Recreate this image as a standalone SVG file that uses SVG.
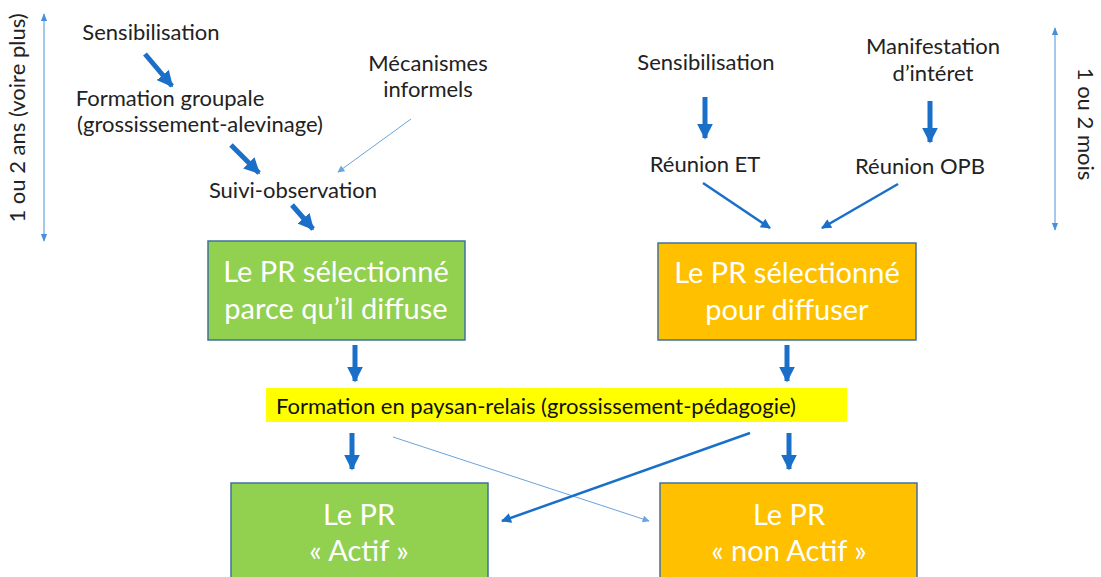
<svg xmlns="http://www.w3.org/2000/svg" width="1101" height="577" viewBox="0 0 1101 577">
<defs>
<style>
.t{font-family:Lato,"Liberation Sans",Arial,sans-serif;font-size:22px;fill:#222;text-anchor:middle}
.bt{font-family:Lato,"Liberation Sans",Arial,sans-serif;font-size:29px;fill:#fff;text-anchor:middle}
.box{stroke:#41719C;stroke-width:1.5}
.g{fill:#92D050}
.o{fill:#FFC000}
.thick{stroke:#1A70C8;stroke-width:5;fill:none}
.med{stroke:#1A70C8;stroke-width:2.5;fill:none}
.thin{stroke:#6BA3DC;stroke-width:1;fill:none}
.dim{stroke:#4A90D9;stroke-width:1;fill:none}
</style>
<marker id="ah" viewBox="0 0 10 10" refX="9" refY="5" markerWidth="3.2" markerHeight="3.2" orient="auto-start-reverse" markerUnits="strokeWidth"><path d="M0,0L10,5L0,10z" fill="#1A70C8"/></marker>
<marker id="am" viewBox="0 0 10 10" refX="9" refY="5" markerWidth="5" markerHeight="4" orient="auto" markerUnits="strokeWidth"><path d="M0,0L10,5L0,10z" fill="#1A70C8"/></marker>
<marker id="at" viewBox="0 0 10 10" refX="9" refY="5" markerWidth="9" markerHeight="7" orient="auto" markerUnits="strokeWidth"><path d="M0,0L10,5L0,10z" fill="#6BA3DC"/></marker>
<marker id="ad" viewBox="0 0 10 10" refX="9" refY="5" markerWidth="8" markerHeight="8" orient="auto-start-reverse" markerUnits="strokeWidth"><path d="M0,1L10,5L0,9z" fill="#4A90D9"/></marker>
</defs>

<g id="dim-left">
<line class="dim" x1="44" y1="14" x2="44" y2="241" marker-start="url(#ad)" marker-end="url(#ad)"/>
<text class="t" transform="translate(25,118) rotate(-90)">1 ou 2 ans  (voire plus)</text>
</g>
<g id="dim-right">
<line class="dim" x1="1055" y1="28" x2="1055" y2="230" marker-start="url(#ad)" marker-end="url(#ad)"/>
<text class="t" transform="translate(1078,124) rotate(90)">1 ou 2 mois</text>
</g>

<g id="n-sensib-left"><text class="t" x="151" y="40">Sensibilisation</text></g>
<g id="n-formation-groupale"><text class="t" x="170" y="106">Formation groupale</text><text class="t" x="200" y="132">(grossissement-alevinage)</text></g>
<g id="n-suivi"><text class="t" x="293" y="198">Suivi-observation</text></g>
<g id="n-mecanismes"><text class="t" x="428" y="71">Mécanismes</text><text class="t" x="428" y="97">informels</text></g>
<g id="n-sensib-right"><text class="t" x="706" y="70">Sensibilisation</text></g>
<g id="n-manifestation"><text class="t" x="933" y="54">Manifestation</text><text class="t" x="933" y="81">d’intéret</text></g>
<g id="n-reunion-et"><text class="t" x="705" y="172">Réunion ET</text></g>
<g id="n-reunion-opb"><text class="t" x="920" y="174">Réunion OPB</text></g>

<g id="n-pr-diffuse"><rect class="box g" x="208" y="241" width="257" height="99"/><text class="bt" x="336" y="282">Le PR sélectionné</text><text class="bt" x="336" y="319">parce qu’il diffuse</text></g>
<g id="n-pr-pour"><rect class="box o" x="658" y="243" width="258" height="97"/><text class="bt" x="787" y="283">Le PR sélectionné</text><text class="bt" x="787" y="320">pour diffuser</text></g>
<g id="n-formation-pr"><rect x="266" y="388" width="581" height="34" fill="#FFFF00"/><text x="276" y="414" style="font-family:Lato,'Liberation Sans',Arial,sans-serif;font-size:22px;fill:#111">Formation en paysan-relais (grossissement-pédagogie)</text></g>
<g id="n-actif"><rect class="box g" x="231" y="483" width="257" height="100"/><text class="bt" x="359" y="525">Le PR</text><text class="bt" x="359" y="561">« Actif »</text></g>
<g id="n-non-actif"><rect class="box o" x="660" y="483" width="257" height="100"/><text class="bt" x="789" y="525">Le PR</text><text class="bt" x="789" y="561">« non Actif »</text></g>

<g id="connectors">
<line class="thick" x1="145" y1="54" x2="172" y2="86" marker-end="url(#ah)"/>
<line class="thick" x1="231" y1="145" x2="259" y2="173" marker-end="url(#ah)"/>
<line class="thick" x1="292" y1="205" x2="313" y2="229" marker-end="url(#ah)"/>
<line class="thin" x1="411" y1="119" x2="338" y2="172" marker-end="url(#at)"/>
<line class="thick" x1="705" y1="97" x2="705" y2="138" marker-end="url(#ah)"/>
<line class="thick" x1="930" y1="101" x2="930" y2="142" marker-end="url(#ah)"/>
<line class="med" x1="703" y1="183" x2="770" y2="228" marker-end="url(#am)"/>
<line class="med" x1="898" y1="184" x2="822" y2="228" marker-end="url(#am)"/>
<line class="thick" x1="355" y1="345" x2="355" y2="381" marker-end="url(#ah)"/>
<line class="thick" x1="787" y1="345" x2="787" y2="381" marker-end="url(#ah)"/>
<line class="thick" x1="352" y1="433" x2="352" y2="469" marker-end="url(#ah)"/>
<line class="thick" x1="789" y1="433" x2="789" y2="469" marker-end="url(#ah)"/>
<line class="thin" x1="393" y1="437" x2="649" y2="521" marker-end="url(#at)"/>
<line class="med" x1="750" y1="433" x2="502" y2="521" marker-end="url(#am)"/>
</g>
</svg>
